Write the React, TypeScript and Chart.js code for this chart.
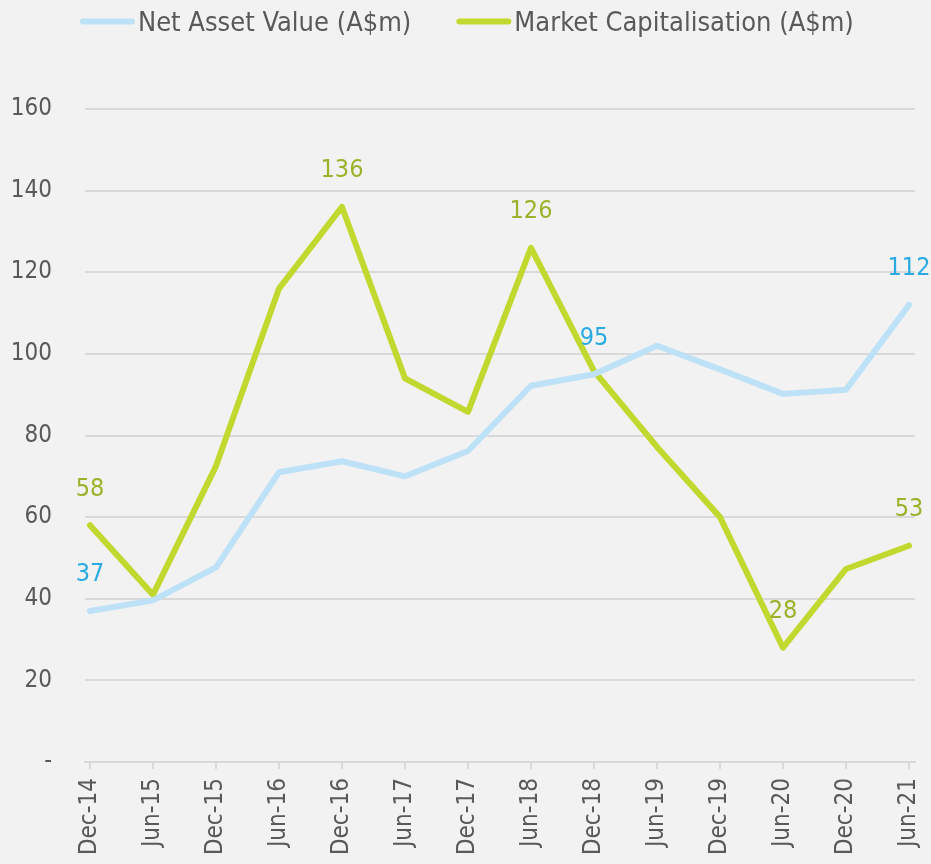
import React, { useEffect, useRef } from "react";
import { Chart, registerables } from "chart.js";

Chart.register(...registerables);

const categories = [
  "Dec-14", "Jun-15", "Dec-15", "Jun-16", "Dec-16", "Jun-17", "Dec-17",
  "Jun-18", "Dec-18", "Jun-19", "Dec-19", "Jun-20", "Dec-20", "Jun-21",
];
const navValues = [37, 39.6, 47.7, 71, 73.7, 70, 76.2, 92.2, 95, 102, 96.2, 90.2, 91.2, 112];
const mcapValues = [58, 41, 72.5, 116, 136, 94, 85.8, 126, 95.8, 77.2, 60, 28, 47.3, 53];
const navLabelIdx = [0, 8, 13];
const mcapLabelIdx = [0, 4, 7, 11, 13];
const yTicks = [0, 20, 40, 60, 80, 100, 120, 140, 160];
const seriesNames = ["Net Asset Value (A$m)", "Market Capitalisation (A$m)"];

const FONT = "'DejaVu Sans Condensed', 'DejaVu Sans', sans-serif";
const NAV_COLOR = "#bde1f6";
const MCAP_COLOR = "#c1d82f";
const NAV_LABEL = "#29abe2";
const MCAP_LABEL = "#9db12a";
const TEXT = "#595959";

const labelPlugin = {
  id: "pointLabels",
  afterDatasetsDraw(chart: any) {
    const ctx = chart.ctx;
    ctx.save();
    ctx.font = `25px ${FONT}`;
    ctx.textAlign = "center";
    ctx.textBaseline = "middle";
    const sets = [
      { ds: 0, idx: navLabelIdx, color: NAV_LABEL, vals: navValues },
      { ds: 1, idx: mcapLabelIdx, color: MCAP_LABEL, vals: mcapValues },
    ];
    for (const s of sets) {
      const meta = chart.getDatasetMeta(s.ds);
      ctx.fillStyle = s.color;
      for (const i of s.idx) {
        const el = meta.data[i];
        ctx.fillText(String(Math.round(s.vals[i])), el.x, el.y - 36);
      }
    }
    ctx.restore();
  },
};

const legendPlugin = {
  id: "customLegend",
  afterDraw(chart: any) {
    const ctx = chart.ctx;
    ctx.save();
    ctx.font = `27px ${FONT}`;
    ctx.textBaseline = "alphabetic";
    const boxW = 55;
    const gap = 3;
    const itemGap = 45;
    const colors = [NAV_COLOR, MCAP_COLOR];
    const widths = seriesNames.map((n) => boxW + gap + ctx.measureText(n).width);
    let x = 80;
    const y = 21.5;
    seriesNames.forEach((n, i) => {
      ctx.strokeStyle = colors[i];
      ctx.lineWidth = 6;
      ctx.lineCap = "round";
      ctx.beginPath();
      ctx.moveTo(x + 3, y);
      ctx.lineTo(x + boxW - 3, y);
      ctx.stroke();
      ctx.fillStyle = TEXT;
      ctx.textAlign = "left";
      ctx.fillText(n, x + boxW + gap, 31);
      x += widths[i] + itemGap;
    });
    ctx.restore();
  },
};

export default function App() {
  const ref = useRef<HTMLCanvasElement | null>(null);
  useEffect(() => {
    if (!ref.current) return;
    const left = 85;
    const right = 915;
    const p0 = 90;
    const p1 = 909;
    const unit = (p1 - p0) / (categories.length - 1);
    const chart = new Chart(ref.current, {
      type: "line",
      data: {
        datasets: [
          {
            label: seriesNames[0],
            data: navValues.map((v, i) => ({ x: i, y: v })),
            borderColor: NAV_COLOR,
            borderWidth: 6,
            pointRadius: 0,
            tension: 0,
            borderCapStyle: "round",
            borderJoinStyle: "round",
          },
          {
            label: seriesNames[1],
            data: mcapValues.map((v, i) => ({ x: i, y: v })),
            borderColor: MCAP_COLOR,
            borderWidth: 6,
            pointRadius: 0,
            tension: 0,
            borderCapStyle: "round",
            borderJoinStyle: "round",
          },
        ],
      },
      options: {
        animation: false,
        responsive: false,
        layout: { padding: { top: 109, right: 0, left: 0, bottom: 0 } },
        plugins: {
          legend: { display: false },
          tooltip: { enabled: false },
        },
        scales: {
          x: {
            type: "linear",
            min: -(p0 - left) / unit,
            max: categories.length - 1 + (right - p1) / unit,
            afterFit: (s: any) => {
              s.height = 102;
              s.paddingRight = 931 - right;
            },
            afterBuildTicks: (s: any) => {
              s.ticks = categories.map((_, i) => ({ value: i }));
            },
            grid: {
              display: true,
              drawOnChartArea: false,
              drawTicks: true,
              tickLength: 7,
              color: "#d9d9d9",
              lineWidth: 2,
            },
            border: { display: true, color: "#d9d9d9", width: 2 },
            ticks: {
              autoSkip: false,
              minRotation: 90,
              maxRotation: 90,
              padding: 9,
              color: TEXT,
              font: { family: FONT, size: 24 },
              callback: (v: any) => categories[Math.round(v)] ?? "",
            },
          },
          y: {
            min: 0,
            max: 160,
            afterFit: (s: any) => {
              s.width = left;
            },
            afterBuildTicks: (s: any) => {
              s.ticks = yTicks.map((v) => ({ value: v }));
            },
            grid: {
              color: (c: any) => (c.tick && c.tick.value === 0 ? "rgba(0,0,0,0)" : "#d9d9d9"),
              lineWidth: 2,
              drawTicks: false,
            },
            border: { display: false },
            ticks: {
              padding: 33,
              color: TEXT,
              font: { family: FONT, size: 24 },
              callback: (v: any) => (v === 0 ? "-" : String(v)),
            },
          },
        },
      },
      plugins: [labelPlugin, legendPlugin],
    });
    return () => chart.destroy();
  }, []);
  return (
    <div style={{ position: "fixed", left: 0, top: 0, width: 931, height: 864, background: "#f2f2f2" }}>
      <canvas ref={ref} width={931} height={864} style={{ display: "block", width: 931, height: 864 }} />
    </div>
  );
}
